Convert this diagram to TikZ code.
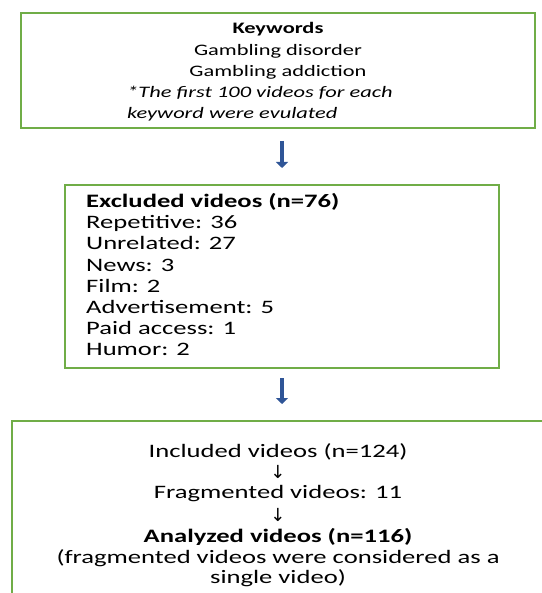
\documentclass[tikz,border=0pt]{standalone}
\usepackage{fontspec}
\setmainfont{Carlito}[FakeStretch=1.4]
\newfontfamily\arrowfont{DejaVu Sans}
\usetikzlibrary{arrows.meta}

\definecolor{boxgreen}{RGB}{112,173,71}
\definecolor{arrowblue}{RGB}{47,85,151}

\tikzstyle{box}=[rectangle,draw=boxgreen,line width=2pt,inner sep=0pt]
\tikzstyle{txt}=[anchor=base,inner sep=0pt]
\tikzstyle{txtl}=[anchor=base west,inner sep=0pt]
\tikzstyle{blockarrow}=[draw=arrowblue,line width=4.5pt,-{Triangle[width=12pt,length=6pt]}]

\begin{document}
\begin{tikzpicture}[x=1pt,y=-1pt]
\useasboundingbox (0,0) rectangle (541,593);

\node[box,minimum width=514pt,minimum height=115pt] (kw) at (278,70.5) {};
\node[txt,font=\fontsize{16}{21}\selectfont\bfseries] (kwt) at (278,34) {Keywords};
\node[txt,font=\fontsize{16}{21}\selectfont] (kw1) at (278,56) {Gambling disorder};
\node[txt,font=\fontsize{16}{21}\selectfont] (kw2) at (278,77) {Gambling addiction};
\node[txtl,font=\fontsize{16}{21}\selectfont\itshape] (kw3) at (127,98) {*The first 100 videos for each};
\node[txtl,font=\fontsize{16}{21}\selectfont\itshape] (kw4) at (127,119) {keyword were evulated};

\node[box,minimum width=434pt,minimum height=183pt] (ex) at (282,276.5) {};
\node[txtl,font=\fontsize{19}{21}\selectfont\bfseries] (ext) at (86,208) {Excluded videos (n=76)};
\node[txtl,font=\fontsize{19}{21}\selectfont] (ex1) at (86,229) {Repetitive: 36};
\node[txtl,font=\fontsize{19}{21}\selectfont] (ex2) at (86,250) {Unrelated: 27};
\node[txtl,font=\fontsize{19}{21}\selectfont] (ex3) at (86,271) {News: 3};
\node[txtl,font=\fontsize{19}{21}\selectfont] (ex4) at (86,292) {Film: 2};
\node[txtl,font=\fontsize{19}{21}\selectfont] (ex5) at (86,313) {Advertisement: 5};
\node[txtl,font=\fontsize{19}{21}\selectfont] (ex6) at (86,334) {Paid access: 1};
\node[txtl,font=\fontsize{19}{21}\selectfont] (ex7) at (86,355) {Humor: 2};

\node[box,minimum width=540pt,minimum height=200pt] (inc) at (282,521) {};
\node[txt,font=\fontsize{19}{21}\selectfont] (in1) at (278,457) {Included videos (n=124)};
\node[txt,font=\fontsize{18}{20}\arrowfont] (in2) at (278,478) {↓};
\node[txt,font=\fontsize{19}{21}\selectfont] (in3) at (278,498) {Fragmented videos: 11};
\node[txt,font=\fontsize{18}{20}\arrowfont] (in4) at (278,521) {↓};
\node[txt,font=\fontsize{19}{21}\selectfont\bfseries] (in5) at (278,542) {Analyzed videos (n=116)};
\node[txt,font=\fontsize{19}{21}\selectfont] (in6) at (278,563) {(fragmented videos were considered as a};
\node[txt,font=\fontsize{19}{21}\selectfont] (in7) at (278,583) {single video)};

\draw[blockarrow,shorten <=12pt,shorten >=16pt] (kw.south -| ex.north) -- (ex.north);
\draw[blockarrow,shorten <=9pt,shorten >=16pt] (ex.south) -- (inc.north);
\end{tikzpicture}
\end{document}
